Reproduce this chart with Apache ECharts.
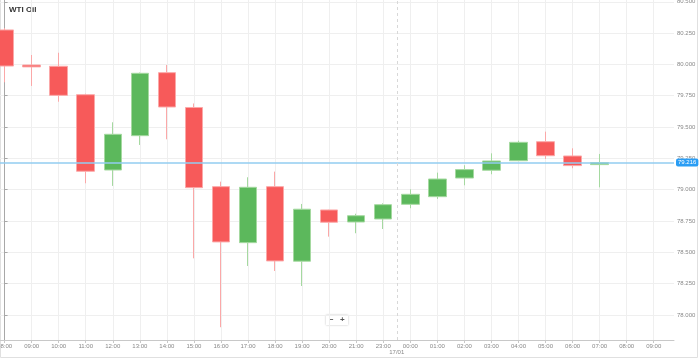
<!DOCTYPE html>
<html><head><meta charset="utf-8">
<script src="https://cdn.jsdelivr.net/npm/echarts@6/dist/echarts.min.js"></script>
<style>html,body{margin:0;padding:0;background:#fff}#c{width:699px;height:360px}</style>
</head><body><div id="c"></div>
<script>
// ---- data ----
const title = 'WTI Oil';
const hours = ['08:00','09:00','10:00','11:00','12:00','13:00','14:00','15:00','16:00','17:00','18:00','19:00','20:00','21:00','23:00','00:00','01:00','02:00','03:00','04:00','05:00','06:00','07:00','08:00','09:00'];
const opens  = [80.275,79.995,79.985,79.758,79.157,79.431,79.934,79.656,79.024,78.577,79.024,78.429,78.838,78.742,78.766,78.883,78.944,79.093,79.155,79.231,79.383,79.269,79.200];
const closes = [79.987,79.980,79.753,79.147,79.442,79.929,79.660,79.016,78.583,79.019,78.431,78.844,78.740,78.792,78.880,78.963,79.085,79.160,79.229,79.378,79.271,79.192,79.216];
const lows   = [79.857,79.828,79.702,79.051,79.030,79.357,79.402,78.452,77.902,78.391,78.351,78.231,78.625,78.652,78.686,78.852,78.926,79.035,79.123,79.228,79.245,79.171,79.019];
const highs  = [80.290,80.075,80.093,79.766,79.538,79.935,79.995,79.688,79.064,79.099,79.144,78.886,78.840,78.808,78.891,79.003,79.136,79.195,79.290,79.391,79.463,79.330,79.285];
const yTicks = [78.0,78.25,78.5,78.75,79.0,79.25,79.5,79.75,80.0,80.25,80.5];
const lastPrice = 79.216;
const dayBreakAt = 14.5;       // between 23:00 and 00:00
const dayBreakLabel = '17/01';

// ---- build ----
const X_MIN = -0.17, X_MAX = 24.75, Y_MIN = 77.8, Y_MAX = 80.514;
const candles = opens.map((o, i) => [i, o, closes[i], lows[i], highs[i]]);
const xTickValues = hours.map((h, i) => i);
const FONT = '"Liberation Sans", Arial, sans-serif';

const chart = echarts.init(document.getElementById('c'), null, {renderer: 'canvas'});
chart.setOption({
  animation: false,
  backgroundColor: '#fff',
  textStyle: {fontFamily: FONT},
  grid: {left: 0, right: 25, top: 0, bottom: 20, containLabel: false, outerBoundsMode: 'none'},
  xAxis: {
    type: 'value', min: X_MIN, max: X_MAX,
    axisLine: {show: true, lineStyle: {color: '#c8c8c8', width: 1}},
    axisTick: {show: true, length: 3, customValues: xTickValues, lineStyle: {color: '#c8c8c8'}},
    axisLabel: {customValues: xTickValues, formatter: v => hours[Math.round(v)] || '', fontSize: 6, color: '#888', margin: 3, fontFamily: FONT},
    splitLine: {show: true, lineStyle: {color: '#efefef', width: 1}}
  },
  yAxis: {
    type: 'value', position: 'right', min: Y_MIN, max: Y_MAX, scale: true,
    axisLine: {show: true, lineStyle: {color: '#a8a8a8', width: 1}},
    axisTick: {show: true, length: 3, customValues: yTicks, lineStyle: {color: '#a8a8a8'}},
    axisLabel: {customValues: yTicks, formatter: v => v.toFixed(3), fontSize: 6, color: '#888', margin: 3, fontFamily: FONT},
    splitLine: {show: true, lineStyle: {color: '#efefef', width: 1}}
  },
  series: [{
    type: 'candlestick',
    data: candles,
    barWidth: 18,
    itemStyle: {
      color: '#5cb85c', borderColor: '#a5d9a0',
      color0: '#f75a5a', borderColor0: '#fba8a8', borderWidth: 1
    },
    markLine: {
      silent: true, symbol: 'none', animation: false,
      data: [
        [{coord: [X_MIN, lastPrice], lineStyle: {color: '#92cdf0', width: 1.5, type: 'solid'},
          label: {show: true, position: 'end', formatter: lastPrice.toFixed(3), color: '#fff', backgroundColor: '#2a9df4',
                  fontSize: 6, padding: [1, 2], borderRadius: 2, distance: 2, fontFamily: FONT}},
         {coord: [X_MAX, lastPrice]}],
        [{coord: [dayBreakAt, Y_MIN], lineStyle: {color: '#d8d8d8', width: 1, type: [3, 3]},
          label: {show: true, position: 'start', formatter: dayBreakLabel, color: '#888', fontSize: 6, distance: 9, fontFamily: FONT}},
         {coord: [dayBreakAt, Y_MAX]}]
      ]
    }
  }],
  graphic: [
    {type: 'rect', shape: {x: 0.5, y: -1, width: 697, height: 358.5}, style: {fill: 'none', stroke: '#e0e0e0', lineWidth: 1}, silent: true},
    {type: 'text', left: 9, top: 6, style: {text: title, font: 'bold 8px ' + FONT, fill: '#333'}},
    {type: 'group', left: 326, top: 315, children: [
      {type: 'rect', shape: {x: 0, y: 0, width: 22, height: 10}, style: {fill: '#fff', shadowBlur: 2, shadowColor: 'rgba(0,0,0,0.25)'}},
      {type: 'text', x: 3, y: 1, style: {text: '\u2212', font: 'bold 8px ' + FONT, fill: '#555'}},
      {type: 'text', x: 14, y: 1, style: {text: '+', font: 'bold 8px ' + FONT, fill: '#555'}}
    ]}
  ]
});
</script>
</body></html>
